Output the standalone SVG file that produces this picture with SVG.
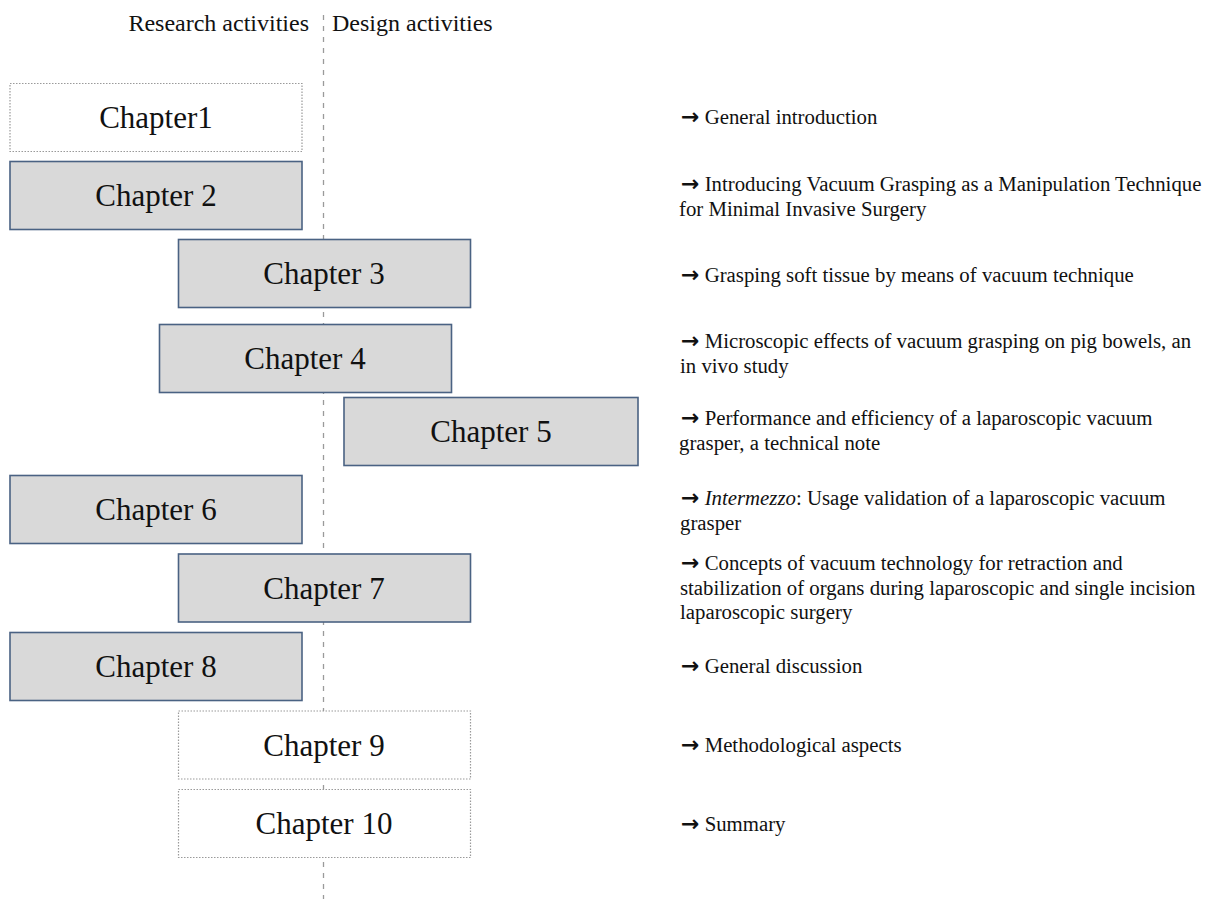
<svg xmlns="http://www.w3.org/2000/svg" width="1206" height="899" viewBox="0 0 1206 899">
<style>
text{font-family:"Liberation Serif","Times New Roman",serif;fill:#111}
.hdr{font-size:24px}
.lbl{font-size:31px;text-anchor:middle}
.desc{font-size:20.8px}
.ar{font-family:"DejaVu Sans",sans-serif;font-weight:bold;font-size:22px}
.solid{fill:#d9d9d9;stroke:#4a6283;stroke-width:1.6}
.dot{fill:#fff;stroke:#9a9a9a;stroke-width:1.2;stroke-dasharray:1.5,1.5}
.divider{stroke:#9a9a9a;stroke-width:1.3;stroke-dasharray:5,6;fill:none}
</style>
<g id="connectors">
<line class="divider" x1="323.5" y1="15" x2="323.5" y2="899"/>
</g>
<g id="headers">
<text class="hdr" x="309" y="31" text-anchor="end">Research activities</text>
<text class="hdr" x="332" y="31">Design activities</text>
</g>
<g id="ch1"><rect class="dot" x="10" y="83.5" width="292" height="68"/><text class="lbl" x="156" y="128">Chapter1</text></g>
<g id="ch2"><rect class="solid" x="10" y="161.5" width="292" height="68"/><text class="lbl" x="156" y="206">Chapter 2</text></g>
<g id="ch3"><rect class="solid" x="178.5" y="239.5" width="292" height="68"/><text class="lbl" x="324" y="284">Chapter 3</text></g>
<g id="ch4"><rect class="solid" x="159.5" y="324.5" width="292" height="68"/><text class="lbl" x="305" y="369">Chapter 4</text></g>
<g id="ch5"><rect class="solid" x="344" y="397.5" width="294" height="68"/><text class="lbl" x="491" y="442">Chapter 5</text></g>
<g id="ch6"><rect class="solid" x="10" y="475.5" width="292" height="68"/><text class="lbl" x="156" y="520">Chapter 6</text></g>
<g id="ch7"><rect class="solid" x="178.5" y="554" width="292" height="68"/><text class="lbl" x="324" y="599">Chapter 7</text></g>
<g id="ch8"><rect class="solid" x="10" y="632.5" width="292" height="68"/><text class="lbl" x="156" y="677">Chapter 8</text></g>
<g id="ch9"><rect class="dot" x="178.5" y="711" width="292" height="68"/><text class="lbl" x="324" y="756">Chapter 9</text></g>
<g id="ch10"><rect class="dot" x="178.5" y="789.5" width="292" height="68"/><text class="lbl" x="324" y="834">Chapter 10</text></g>
<g id="descriptions">
<text class="desc" x="681" y="124"><tspan class="ar">→</tspan> General introduction</text>
<text class="desc" x="681" y="191"><tspan class="ar">→</tspan> Introducing Vacuum Grasping as a Manipulation Technique</text>
<text class="desc" x="679" y="216">for Minimal Invasive Surgery</text>
<text class="desc" x="681" y="282"><tspan class="ar">→</tspan> Grasping soft tissue by means of vacuum technique</text>
<text class="desc" x="681" y="348"><tspan class="ar">→</tspan> Microscopic effects of vacuum grasping on pig bowels, an</text>
<text class="desc" x="680" y="373">in vivo study</text>
<text class="desc" x="681" y="425"><tspan class="ar">→</tspan> Performance and efficiency of a laparoscopic vacuum</text>
<text class="desc" x="679" y="450">grasper, a technical note</text>
<text class="desc" x="681" y="505"><tspan class="ar">→</tspan> <tspan font-style="italic">Intermezzo</tspan>: Usage validation of a laparoscopic vacuum</text>
<text class="desc" x="680" y="530">grasper</text>
<text class="desc" x="681" y="570"><tspan class="ar">→</tspan> Concepts of vacuum technology for retraction and</text>
<text class="desc" x="680" y="595">stabilization of organs during laparoscopic and single incision</text>
<text class="desc" x="680" y="619">laparoscopic surgery</text>
<text class="desc" x="681" y="673"><tspan class="ar">→</tspan> General discussion</text>
<text class="desc" x="681" y="752"><tspan class="ar">→</tspan> Methodological aspects</text>
<text class="desc" x="681" y="831"><tspan class="ar">→</tspan> Summary</text>
</g>
</svg>
